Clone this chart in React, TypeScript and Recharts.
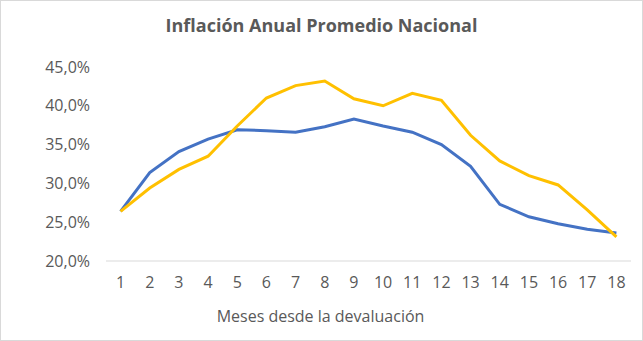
import React from 'react';
import { LineChart, Line, XAxis, YAxis, Label } from 'recharts';

const months = [1, 2, 3, 4, 5, 6, 7, 8, 9, 10, 11, 12, 13, 14, 15, 16, 17, 18];
const blueSeries = [26.4, 31.4, 34.1, 35.7, 36.9, 36.8, 36.6, 37.3, 38.3, 37.4, 36.6, 35.0, 32.2, 27.3, 25.7, 24.8, 24.1, 23.6];
const yellowSeries = [26.4, 29.4, 31.8, 33.5, 37.4, 41.0, 42.6, 43.2, 40.9, 40.0, 41.6, 40.7, 36.2, 32.9, 31.0, 29.8, 26.6, 23.1];
const yTicks = [20, 25, 30, 35, 40, 45];

const data = months.map((m, i) => ({ mes: m, azul: blueSeries[i], amarilla: yellowSeries[i] }));

const font = '"Open Sans", sans-serif';
const textColor = '#595959';

function pct(v: number) {
  return v.toFixed(1).replace('.', ',') + '%';
}

export default function App() {
  return (
    <div style={{ position: 'absolute', left: 0, top: 0, width: 643, height: 341, background: '#fff', fontFamily: font }}>
      <div
        style={{
          position: 'absolute',
          top: 13,
          left: 0,
          width: 643,
          textAlign: 'center',
          fontSize: 18,
          fontWeight: 700,
          color: textColor,
        }}
      >
        Inflación Anual Promedio Nacional
      </div>
      <LineChart width={643} height={341} data={data} margin={{ top: 67, right: 12, left: 0, bottom: 0 }}>
        <XAxis
          dataKey="mes"
          type="number"
          domain={[0.5, 18.5]}
          ticks={months}
          interval={0}
          height={80}
          tickLine={false}
          tickSize={0}
          tickMargin={16}
          axisLine={{ stroke: '#d9d9d9', strokeWidth: 1 }}
          tick={{ fill: textColor, fontSize: 16, fontFamily: font }}
        >
          <Label
            value="Meses desde la devaluación"
            position="insideBottom"
            offset={19}
            dx={-48}
            style={{ fill: textColor, fontSize: 16, fontFamily: font }}
          />
        </XAxis>
        <YAxis
          type="number"
          domain={[20, 45]}
          ticks={yTicks}
          width={106}
          axisLine={false}
          tickLine={false}
          tickSize={0}
          tickMargin={16}
          tickFormatter={pct}
          tick={{ fill: textColor, fontSize: 16, fontFamily: font }}
        />
        <Line type="linear" dataKey="azul" stroke="#4472C4" strokeWidth={3} dot={false} isAnimationActive={false} />
        <Line type="linear" dataKey="amarilla" stroke="#FFC000" strokeWidth={3} dot={false} isAnimationActive={false} />
      </LineChart>
      <div
        style={{
          position: 'absolute',
          left: 0,
          top: 0,
          width: 643,
          height: 341,
          boxSizing: 'border-box',
          border: '1px solid #d9d9d9',
          pointerEvents: 'none',
        }}
      />
    </div>
  );
}
